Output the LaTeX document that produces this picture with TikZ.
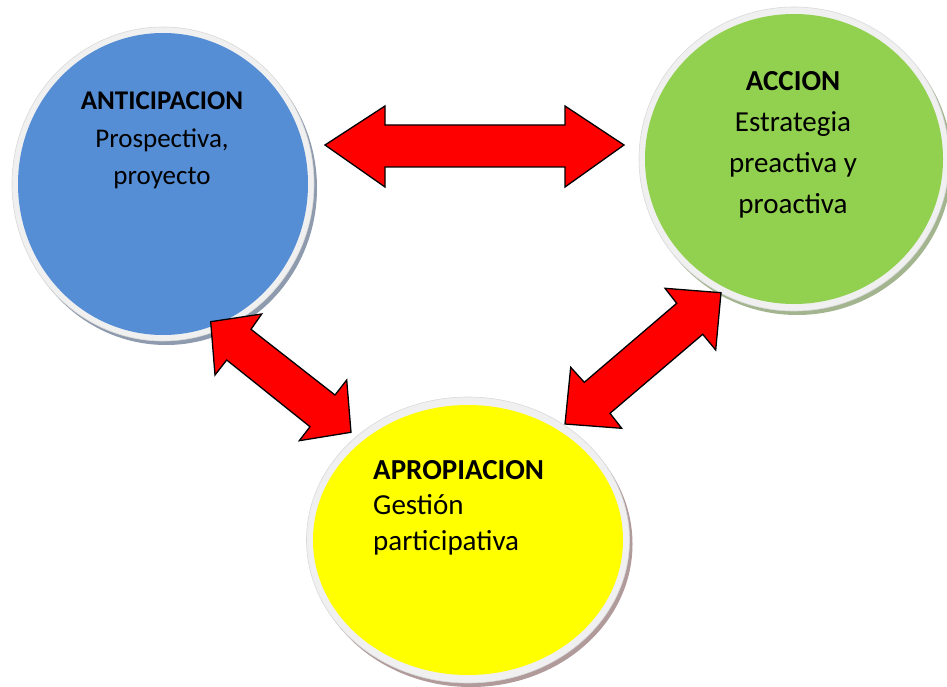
\documentclass[tikz,border=0pt]{standalone}
\usepackage{fontspec}
\setmainfont{Carlito}
\usetikzlibrary{shapes.geometric}
\definecolor{cblue}{HTML}{558ED5}
\definecolor{cgreen}{HTML}{92D050}
\definecolor{cyellow}{HTML}{FFFF00}
\definecolor{ringgray}{HTML}{F0F0F0}
\definecolor{ringedge}{HTML}{D9D9D9}
\definecolor{shblue}{HTML}{8E9AAE}
\definecolor{shgreen}{HTML}{A3B58F}
\definecolor{shyellow}{HTML}{B09A9A}
\definecolor{cred}{HTML}{FF0000}
\begin{document}
\begin{tikzpicture}[x=1pt,y=-1pt,
  ring/.style={ellipse, fill=ringgray, draw=ringedge, line width=0.6pt, inner sep=0pt},
  shadowell/.style={ellipse, inner sep=0pt},
  core/.style={ellipse, inner sep=0pt},
  lbl/.style={inner sep=0pt, anchor=base},
  blockarrow/.style={fill=cred, draw=black, line width=1.3pt, line join=miter}]
\useasboundingbox (0,0) rectangle (947,687);
% ANTICIPACION
\node[shadowell, fill=shblue, minimum width=302, minimum height=314] at (166,188) {};
\node[ring, minimum width=302, minimum height=314] (antring) at (163,184) {};
\node[core, fill=cblue, minimum width=290, minimum height=302] (anticipacion) at (163,184) {};
% ACCION
\node[shadowell, fill=shgreen, minimum width=310, minimum height=304] at (797,163) {};
\node[ring, minimum width=310, minimum height=304] (accring) at (794,159) {};
\node[core, fill=cgreen, minimum width=298, minimum height=290] (accion) at (794,159) {};
% APROPIACION
\node[shadowell, fill=shyellow, minimum width=323, minimum height=286] at (471,544) {};
\node[ring, minimum width=323, minimum height=286] (aproring) at (468,540) {};
\node[core, fill=cyellow, minimum width=310, minimum height=270] (apropiacion) at (468,540) {};
% texts (anchor base = baseline of last line)
\node[lbl, align=center, font=\fontsize{27}{37.5}\selectfont] (t1) at (162,185) {\textbf{ANTICIPACION}\\Prospectiva,\\proyecto};
\node[lbl, align=center, font=\fontsize{29}{40.8}\selectfont] (t2) at (793,213) {\textbf{ACCION}\\Estrategia\\preactiva y\\proactiva};
\node[lbl, align=left, anchor=base west, font=\fontsize{29}{35.5}\selectfont] (t3) at (373,550) {\textbf{APROPIACION}\\Gestión\\participativa};
% arrows
\draw[blockarrow] (325,145) -- (385,106) -- (385,125) -- (565,125) -- (565,106) -- (624,145)
  -- (565,187) -- (565,167) -- (385,167) -- (385,187) -- cycle;
\draw[blockarrow] (210.7,321.7) -- (261.7,314) -- (251,329.3) -- (335,395) -- (346.7,380)
  -- (351,432.3) -- (299.3,440.7) -- (310,426.7) -- (226.7,360) -- (215,375) -- cycle;
\draw[blockarrow] (721,292.7) -- (665,288.3) -- (676.7,303.3) -- (584.3,382.3) -- (570.7,367.3)
  -- (565,424) -- (621.7,428.3) -- (610,413.3) -- (702.7,334.3) -- (715.7,350) -- cycle;
\end{tikzpicture}
\end{document}
